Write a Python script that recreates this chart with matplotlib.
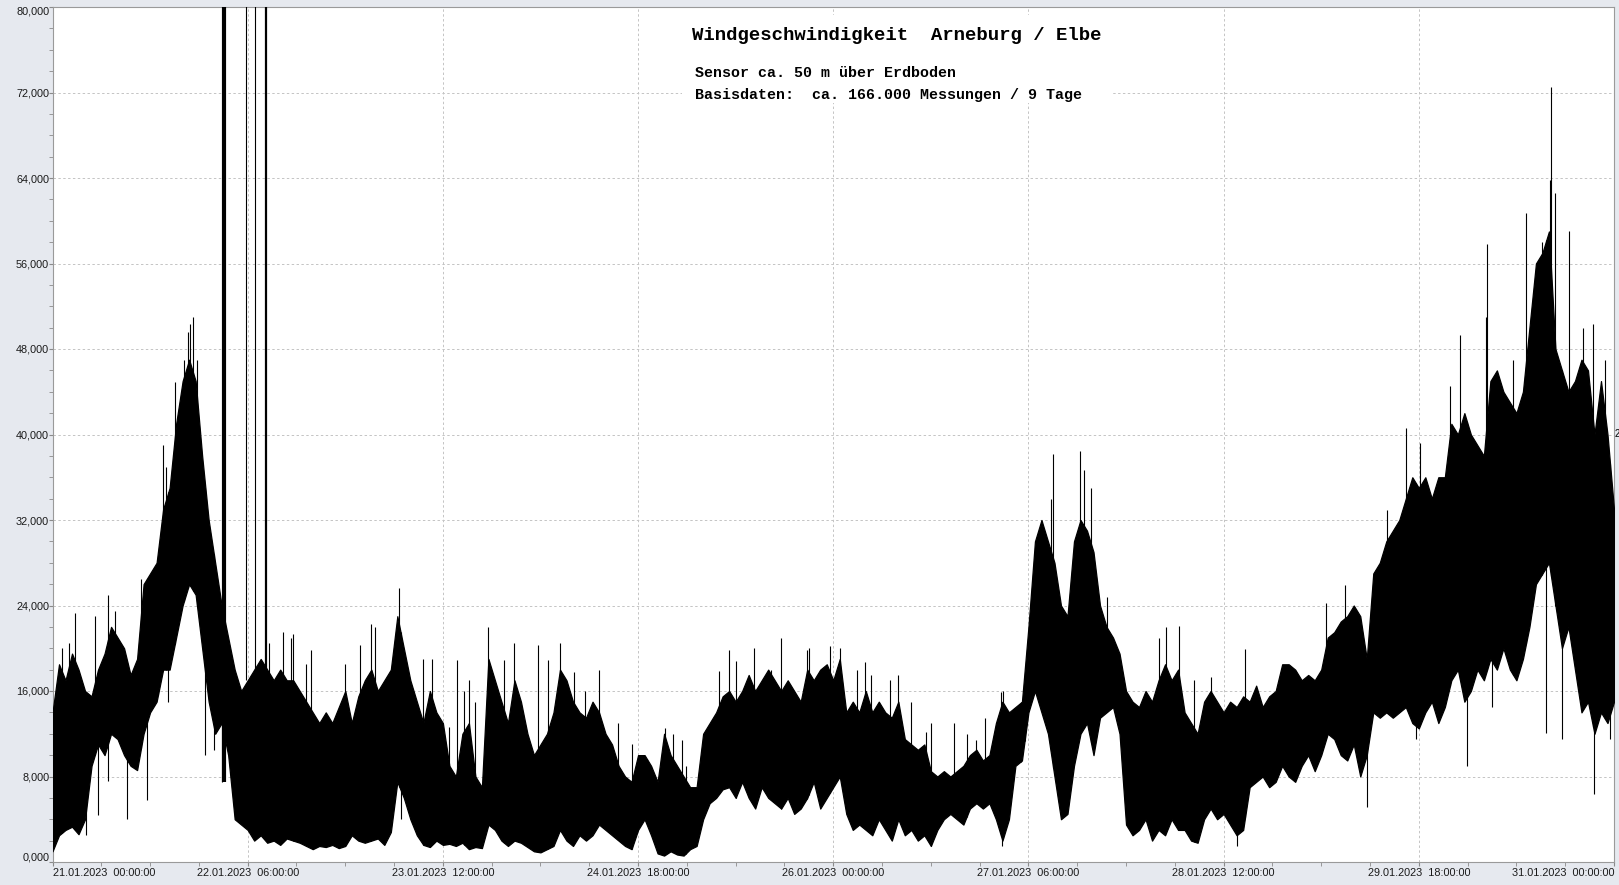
import numpy as np
import pandas as pd
import matplotlib
matplotlib.use('Agg')
import matplotlib.pyplot as plt
from matplotlib.patches import Rectangle
from matplotlib.ticker import MultipleLocator

# Zeitbasis: Stunden ab 21.01.2023 00:00:00
start = pd.Timestamp('2023-01-21 00:00:00')
hours = np.arange(0, 241)

upper = [14, 18.5, 17, 19.5, 18, 16, 15.5, 18, 19.5, 22,
         21, 20, 17.5, 19, 26, 27, 28, 33, 35, 41,
         45, 47, 45, 38, 32, 28, 24, 21, 18, 16,
         17, 18, 19, 18, 17, 18, 17, 17, 16, 15,
         14, 13, 14, 13, 14.5, 16, 13, 15.5, 17, 18,
         16, 17, 18, 23, 20, 17, 15, 13, 16, 14,
         13, 9, 8, 12, 13, 8, 7, 19, 17, 15,
         13, 17, 15, 12, 10, 11, 12, 14, 18, 17,
         15, 14, 13.5, 15, 14, 12, 11, 9, 8, 7.5,
         10, 10, 9, 7.5, 12, 10, 9, 8, 7, 7,
         12, 13, 14, 15.5, 16, 15, 16, 17.5, 16, 17,
         18, 17, 16, 17, 16, 15, 18, 17, 18, 18.5,
         17, 19, 14, 15, 14, 16, 14, 15, 14, 13.5,
         15, 11.5, 11, 10.5, 11, 8.5, 8, 8.5, 8, 8.5,
         9, 10, 10.5, 9.5, 10, 13, 15, 14, 14.5, 15,
         22, 30, 32, 30, 28, 24, 23, 30, 32, 31,
         29, 24, 22, 21, 19.5, 16, 15, 14.5, 16, 15,
         17, 18.5, 17, 18, 14, 13, 12, 15, 16, 15,
         14, 15, 14.5, 15.5, 15, 16.5, 14.5, 15.5, 16, 18.5,
         18.5, 18, 17, 17.5, 17, 18, 21, 21.5, 22.5, 23,
         24, 23, 19, 27, 28, 30, 31, 32, 34, 36,
         35, 36, 34, 36, 36, 41, 40, 42, 40, 39,
         38, 45, 46, 44, 43, 42, 44, 50, 56, 57,
         59, 48, 46, 44, 45, 47, 46, 40, 45, 40,
         33]
lower = [1, 2.5, 3, 3.3, 2.6, 4, 9, 11, 10, 12,
         11.5, 10, 9, 8.6, 12, 14, 15, 18, 18, 21,
         24, 26, 25, 20, 15, 12, 13, 10, 4, 3.5,
         3, 2, 2.5, 1.8, 2, 1.6, 2.2, 2, 1.8, 1.5,
         1.2, 1.5, 1.4, 1.6, 1.3, 1.5, 2.5, 2, 1.8, 2,
         2.2, 1.6, 2.8, 7.5, 6, 4, 2.5, 1.6, 1.4, 2,
         1.6, 1.7, 1.5, 1.8, 1.2, 1.4, 1.3, 3.5, 3, 2,
         1.5, 2, 1.8, 1.4, 1, 0.9, 1.2, 1.5, 3, 2,
         1.5, 2.5, 2, 2.5, 3.5, 3, 2.5, 2, 1.5, 1.2,
         3, 4, 2.5, 0.8, 0.6, 1, 0.7, 0.6, 1.2, 1.5,
         4, 5.5, 6, 6.8, 7, 6, 7.5, 6, 5, 7,
         6, 5.5, 5, 6, 4.5, 5, 6, 7.5, 5, 6,
         7, 8, 4.5, 3, 3.5, 3, 2.5, 4, 3, 2,
         4, 2.5, 3, 2, 2.5, 1.5, 3, 4, 4.5, 4,
         3.5, 5, 5.5, 5, 5.5, 4, 2, 4, 9, 9.5,
         14, 16, 14, 12, 8, 4, 4.5, 9, 12, 13,
         10, 13.5, 14, 14.5, 12, 3.5, 2.5, 3, 4, 2,
         3, 2.5, 4, 3, 3, 2, 1.8, 4, 5, 4,
         4.5, 3.5, 2.5, 3, 7, 7.5, 8, 7, 7.5, 9,
         8, 7.5, 9, 10, 8.5, 10, 12, 11.5, 10, 9.5,
         11, 8, 10, 14, 13.5, 14, 13.5, 14, 14.5, 13,
         12.5, 14, 15, 13, 14.5, 17, 18, 15, 16, 18,
         17, 19, 18, 20, 18, 17, 19, 22, 26, 27,
         28, 24, 20, 22, 18, 14, 15, 12, 14, 13,
         15]

# einzelne Boeen nach oben
spike_t = [1.5, 2.6, 3.5, 6.5, 8.5, 9.6, 13.6, 16.2, 17.0, 17.4, 18.8, 20.2, 20.8,
           21.2, 21.6, 22.2, 33.2, 35.5, 36.6, 37.0, 39.0, 39.7, 45.0, 47.3, 48.9,
           49.6, 53.3, 57.0, 58.4, 60.9, 62.2, 63.3, 64.0, 65.0, 67.0, 69.4, 71.0,
           74.6, 76.2, 78.0, 80.2, 81.8, 84.0, 86.9, 89.0, 91.3, 94.2, 95.3, 96.8,
           97.3, 102.5, 104.0, 105.0, 107.8, 110.4, 112.0, 115.9, 116.2, 119.5,
           121.0, 123.7, 124.9, 125.8, 128.7, 129.9, 131.9, 134.3, 135.0, 138.5,
           140.5, 142.0, 143.3, 145.8, 146.1, 148.8, 149.4, 153.4, 153.8, 158.0,
           158.5, 159.6, 162.0, 170.1, 171.2, 173.2, 175.5, 178.0, 183.3, 195.8,
           198.6, 205.1, 208.0, 210.2, 214.8, 216.3, 220.4, 220.5, 224.5, 226.5,
           228.9, 230.1, 230.3, 231.0, 233.1, 235.2, 236.8, 238.6]
spike_v = [20, 20.5, 23.3, 23, 25, 23.5, 26.5, 28.5, 39, 37, 44.9, 47, 49.6,
           50.3, 51, 47, 20.5, 21.5, 21, 21.3, 18.5, 19.8, 18.5, 20.3, 22.3,
           22, 25.6, 19, 19, 12.6, 18.9, 16, 17, 15, 22, 18.9, 20.5,
           20.3, 18.9, 20.5, 17.8, 16, 18, 13, 11, 9.6, 12.5, 12, 11.4,
           9, 17.9, 19.8, 18.8, 20, 18, 21, 19.8, 20, 20.2,
           20, 18, 18.7, 17.5, 17, 17.5, 15, 12.2, 13, 13,
           12, 11.4, 13.5, 15.9, 16, 15, 16, 34, 38.2, 38.5,
           36.7, 35, 24.8, 21, 22, 22.1, 17, 17.3, 19.9, 24.2,
           25.9, 32.9, 40.6, 39.2, 44.5, 49.3, 51, 57.8, 47, 60.7,
           58, 63.8, 72.5, 62.6, 59, 50, 50.3, 47]

# Einbrueche nach unten
dip_t = [5.2, 7.0, 8.5, 11.5, 14.5, 17.8, 23.5, 24.8, 26.0, 53.5, 146.0, 182.0,
         202.0, 209.5, 217.4, 221.2, 224.6, 229.6, 232.0, 236.9, 239.4]
dip_v = [2.5, 4.4, 7.6, 4, 5.8, 15, 10, 10.5, 7.5, 4, 1.5, 1.5,
         5.1, 11.5, 9, 14.5, 17.5, 12.1, 11.5, 6.4, 11.5]

# Fehlmessungen, die oben aus dem Diagramm laufen
out_t = [26.3, 29.8, 31.1, 32.8]
out_lo = [7.5, 17.0, 15.0, 14.0]
out_hi = [95, 95, 95, 95]
out_w = [3.0, 0.8, 0.8, 1.6]

W, H = 1619, 885


def fx(x):
    return x / W


def fy(y):
    return 1 - y / H


fig = plt.figure(figsize=(W / 100, H / 100), dpi=100, facecolor='#e6e9ef')
ax = fig.add_axes([fx(52.5), fy(862), fx(1614) - fx(52.5), fy(7) - fy(862)])
ax.set_facecolor('white')
ax.set_axisbelow(True)

# Messwerte
ax.fill_between(hours, lower, upper, color='black', linewidth=0.9, zorder=3)
ax.vlines(spike_t, np.interp(spike_t, hours, lower), spike_v, color='black', linewidth=0.8, zorder=3)
ax.vlines(dip_t, dip_v, np.interp(dip_t, hours, upper), color='black', linewidth=0.8, zorder=3)
for t, lo, hi, w in zip(out_t, out_lo, out_hi, out_w):
    ax.vlines(t, lo, hi, color='black', linewidth=w, zorder=3)

ax.set_xlim(0, 240)
ax.set_ylim(0, 80)

# Achsen
major_x = np.arange(0, 241, 30)
ax.set_xticks(major_x)
ax.set_xticklabels([(start + pd.Timedelta(hours=int(h))).strftime('%d.%m.%Y  %H:%M:%S') for h in major_x])
ax.xaxis.set_minor_locator(MultipleLocator(7.5))
major_y = np.arange(0, 81, 8)
ax.set_yticks(major_y)
ax.set_yticklabels([('%.3f' % v).replace('.', ',') for v in major_y])
ax.yaxis.set_minor_locator(MultipleLocator(2))

ax.tick_params(which='both', direction='out', length=3, color='#8a8a8a',
               labelsize=7.8, labelcolor='#1a1a1a')
ax.tick_params(axis='x', pad=1.5)
ax.tick_params(axis='y', pad=-0.6)
for lab in ax.get_xticklabels() + ax.get_yticklabels():
    lab.set_fontfamily('Liberation Sans')
xl = ax.get_xticklabels()
xl[0].set_horizontalalignment('left')
xl[-1].set_horizontalalignment('right')
yl = ax.get_yticklabels()
yl[0].set_verticalalignment('bottom')
yl[-1].set_verticalalignment('top')

ax.grid(True, which='major', color='#c4c4c4', linestyle=(0, (2.5, 2.5)), linewidth=0.7)
for s in ax.spines.values():
    s.set_color('#9a9a9a')
    s.set_linewidth(0.8)

# Textfeld
ax.add_patch(Rectangle((fx(682), fy(103)), fx(1112) - fx(682), fy(15) - fy(103),
                       transform=fig.transFigure, facecolor='white', edgecolor='none', zorder=1))
fig.text(fx(692), fy(36), 'Windgeschwindigkeit  Arneburg / Elbe', family='Liberation Mono',
         weight='bold', fontsize=13.7, va='center', ha='left')
fig.text(fx(695), fy(73), 'Sensor ca. 50 m über Erdboden', family='Liberation Mono',
         weight='bold', fontsize=10.8, va='center', ha='left')
fig.text(fx(695), fy(95), 'Basisdaten:  ca. 166.000 Messungen / 9 Tage', family='Liberation Mono',
         weight='bold', fontsize=10.8, va='center', ha='left')
fig.text(fx(1614.5), fy(434), '2', family='Liberation Sans', fontsize=7, va='center', ha='left')

fig.savefig('out.png', dpi=100, facecolor=fig.get_facecolor())
